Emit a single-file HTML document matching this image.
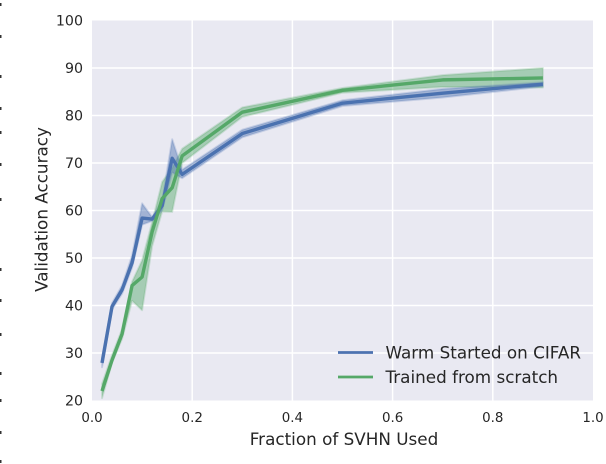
<!DOCTYPE html>
<html>
<head>
<meta charset="utf-8">
<style>
html,body{margin:0;padding:0;background:#fff;width:606px;height:464px;overflow:hidden}
svg{display:block;font-family:"DejaVu Sans","Liberation Sans",sans-serif;fill:#262626}
</style>
</head>
<body>
<svg id="chart" width="606" height="464" viewBox="0 0 606 464" xmlns="http://www.w3.org/2000/svg">
  <defs><filter id="soft" x="-5%" y="-5%" width="110%" height="110%"><feGaussianBlur stdDeviation="0.35"/></filter></defs>
  <g id="edge" fill="#333"></g>
  <rect x="92" y="20.5" width="501" height="380" fill="#e9e9f2"/>
  <g id="grid"></g>
  <g id="marks" filter="url(#soft)"></g>
  <g id="xticks" font-size="13.4" text-anchor="middle"></g>
  <g id="yticks" font-size="14.2" text-anchor="end"></g>
  <text x="344" y="445" font-size="16.8" text-anchor="middle">Fraction of SVHN Used</text>
  <text transform="translate(47.5 209.5) rotate(-90)" font-size="16.8" text-anchor="middle">Validation Accuracy</text>
  <g>
    <line x1="338" x2="373" y1="352.5" y2="352.5" stroke="#4c72b0" stroke-width="2.8"/>
    <text x="385.5" y="358.5" font-size="16.8">Warm Started on CIFAR</text>
    <line x1="338" x2="373" y1="377" y2="377" stroke="#55a868" stroke-width="2.8"/>
    <text x="385.5" y="383" font-size="16.8">Trained from scratch</text>
  </g>
</svg>
<script>
const fractions = [0.02, 0.04, 0.06, 0.08, 0.10, 0.12, 0.14, 0.16, 0.18, 0.30, 0.50, 0.70, 0.90];
const warmMean = [27.9, 39.8, 43.3, 49, 58.4, 58.2, 61, 71, 67.6, 76.2, 82.6, 84.7, 86.6];
const warmLow = [27, 39.2, 42.5, 48, 57, 57.8, 60, 68, 66.8, 75.4, 82, 83.8, 86.1];
const warmHigh = [29, 40.5, 44.2, 50.5, 61.5, 58.6, 62, 75, 68.6, 77, 83.2, 85.6, 87];
const scratchMean = [22, 28.5, 34, 44.2, 46, 55.5, 62.5, 64.8, 71.5, 80.7, 85.3, 87.5, 87.9];
const scratchLow = [20.5, 28, 33, 41, 39, 52.5, 59.8, 59.7, 70, 79.7, 84.8, 86, 85.9];
const scratchHigh = [23.5, 29.5, 35, 45, 49.5, 57.5, 66, 69, 73, 81.7, 85.8, 88.5, 90];
const xTickValues = [0, 0.2, 0.4, 0.6, 0.8, 1];
const xTickLabels = ['0.0', '0.2', '0.4', '0.6', '0.8', '1.0'];
const yTickValues = [20, 30, 40, 50, 60, 70, 80, 90, 100];
const yTickLabels = ['20', '30', '40', '50', '60', '70', '80', '90', '100'];
const edgeMarkRows = [3, 35, 75, 107, 131, 163, 198, 268, 299, 333, 372, 399, 431, 460];

const NS = 'http://www.w3.org/2000/svg';
const xScale = v => 92 + v * 501;
const yScale = v => 400.5 - (v - 20) * 4.75;
const pathFrom = (xs, ys) => xs.map((x, i) => xScale(x).toFixed(2) + ',' + yScale(ys[i]).toFixed(2)).join(' ');

const grid = document.getElementById('grid');
xTickValues.slice(1, -1).forEach(v => {
  const l = document.createElementNS(NS, 'line');
  
  
  l.setAttribute('x1', xScale(v)); l.setAttribute('x2', xScale(v));
  l.setAttribute('y1', 20.5); l.setAttribute('y2', 400.5);
  l.setAttribute('stroke', '#fff'); l.setAttribute('stroke-width', 1.5);
  grid.appendChild(l);
});
yTickValues.slice(1, -1).forEach(v => {
  const l = document.createElementNS(NS, 'line');
  
  
  l.setAttribute('x1', 92); l.setAttribute('x2', 593);
  l.setAttribute('y1', yScale(v)); l.setAttribute('y2', yScale(v));
  l.setAttribute('stroke', '#fff'); l.setAttribute('stroke-width', 1.5);
  grid.appendChild(l);
});

const marks = document.getElementById('marks');
function drawBand(low, high, color, name) {
  const p = document.createElementNS(NS, 'polygon');
  
  
  p.setAttribute('points', pathFrom(fractions, high) + ' ' + pathFrom(fractions.slice().reverse(), low.slice().reverse()));
  p.setAttribute('fill', color);
  p.setAttribute('fill-opacity', '0.45');
  p.setAttribute('stroke', color);
  p.setAttribute('stroke-opacity', '0.22');
  p.setAttribute('stroke-width', 2);
  p.setAttribute('stroke-linejoin', 'round');
  marks.appendChild(p);
}
function drawLine(values, color, name) {
  const p = document.createElementNS(NS, 'polyline');
  
  
  p.setAttribute('points', pathFrom(fractions, values));
  p.setAttribute('fill', 'none');
  p.setAttribute('stroke', color);
  p.setAttribute('stroke-width', 3.4);
  p.setAttribute('stroke-linejoin', 'round');
  marks.appendChild(p);
}
drawBand(scratchLow, scratchHigh, '#55a868', 'trained-from-scratch-band');
drawBand(warmLow, warmHigh, '#4c72b0', 'warm-started-band');
drawLine(warmMean, '#4c72b0', 'warm-started-line');
drawLine(scratchMean, '#55a868', 'trained-from-scratch-line');

const xticks = document.getElementById('xticks');
xTickValues.forEach((v, i) => {
  const t = document.createElementNS(NS, 'text');
  
  
  t.setAttribute('x', xScale(v));
  t.setAttribute('y', 422);
  t.textContent = xTickLabels[i];
  xticks.appendChild(t);
});
const yticks = document.getElementById('yticks');
yTickValues.forEach((v, i) => {
  const t = document.createElementNS(NS, 'text');
  
  
  t.setAttribute('x', 83);
  t.setAttribute('y', yScale(v) + 5);
  t.textContent = yTickLabels[i];
  yticks.appendChild(t);
});

const edge = document.getElementById('edge');
edgeMarkRows.forEach(y => {
  const r = document.createElementNS(NS, 'rect');
  
  
  r.setAttribute('x', 0); r.setAttribute('y', y);
  r.setAttribute('width', 1.5); r.setAttribute('height', 3);
  edge.appendChild(r);
});
</script>
</body>
</html>
